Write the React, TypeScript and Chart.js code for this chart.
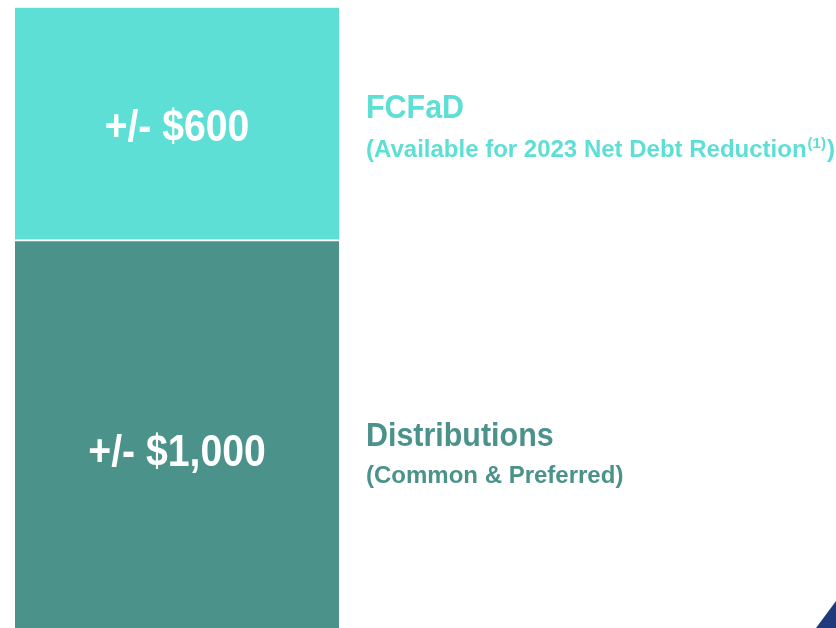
import React, { useEffect, useRef } from "react";
import { Chart, registerables } from "chart.js";

Chart.register(...registerables);

const categories = ["2023"];
const segmentNames = ["FCFaD", "Distributions"];
const segmentValues = [600, 1000];
const valueLabels = ["+/- $600", "+/- $1,000"];
const segmentSubtitles = ["(Available for 2023 Net Debt Reduction", "(Common & Preferred)"];
const subtitleNotes = ["(1)", ""];
const subtitleTails = [")", ""];

const COLORS = ["#5DDFD5", "#4A928A"];
const FONT = '"Liberation Sans", Arial, sans-serif';
// per-segment text layout offsets relative to bar segment center
const VALUE_DY = [17, 32];
const TITLE_DY = [-5.5, 11.5];
const SUB_DY = [33, 48.5];

function condensedText(ctx: CanvasRenderingContext2D, text: string, x: number, y: number, sx: number) {
  ctx.save();
  ctx.translate(x, y);
  ctx.scale(sx, 1);
  ctx.fillText(text, 0, 0);
  ctx.restore();
}

const labelPlugin = {
  id: "labels",
  afterDraw(chart: any) {
    const ctx = chart.ctx;
    const area = chart.chartArea;
    ctx.save();
    segmentValues.forEach((_, i) => {
      const meta = chart.getDatasetMeta(i === 0 ? 1 : 0);
      const el = meta.data[0];
      const { x, y, base } = el.getProps(["x", "y", "base"], true);
      const cy = (y + base) / 2;
      ctx.fillStyle = "#ffffff";
      ctx.font = `bold 45px ${FONT}`;
      ctx.textAlign = "center";
      ctx.textBaseline = "alphabetic";
      condensedText(ctx, valueLabels[i], x, cy + VALUE_DY[i], 0.87);

      const tx = area.right + 27;
      ctx.textAlign = "left";
      ctx.fillStyle = COLORS[i];
      ctx.font = `bold 34px ${FONT}`;
      condensedText(ctx, segmentNames[i], tx, cy + TITLE_DY[i], 0.895);
      ctx.font = `bold 24px ${FONT}`;
      const sub = segmentSubtitles[i];
      ctx.fillText(sub, tx, cy + SUB_DY[i]);
      let w = ctx.measureText(sub).width;
      if (subtitleNotes[i]) {
        ctx.font = `bold 15px ${FONT}`;
        ctx.fillText(subtitleNotes[i], tx + w + 1, cy + SUB_DY[i] - 9);
        w += ctx.measureText(subtitleNotes[i]).width + 1;
        ctx.font = `bold 24px ${FONT}`;
        ctx.fillText(subtitleTails[i], tx + w + 1, cy + SUB_DY[i]);
      }
    });
    const W = chart.width;
    const H = chart.height;
    ctx.fillStyle = "#1F3B7C";
    ctx.beginPath();
    ctx.moveTo(W - 20, H);
    ctx.lineTo(W, H - 27);
    ctx.lineTo(W, H);
    ctx.closePath();
    ctx.fill();
    ctx.restore();
  },
};

export default function App() {
  const ref = useRef<HTMLCanvasElement>(null);
  useEffect(() => {
    if (!ref.current) return;
    const chart = new Chart(ref.current, {
      type: "bar",
      data: {
        labels: categories,
        datasets: [
          {
            label: segmentNames[1],
            data: [segmentValues[1]],
            backgroundColor: COLORS[1],
            borderColor: "#ffffff",
            borderWidth: { top: 1.5, left: 0, right: 0, bottom: 0 },
            borderSkipped: false,
            categoryPercentage: 1,
            barPercentage: 1,
          },
          {
            label: segmentNames[0],
            data: [segmentValues[0]],
            backgroundColor: COLORS[0],
            borderColor: "#ffffff",
            borderWidth: { top: 0, left: 0, right: 0, bottom: 1 },
            borderSkipped: false,
            categoryPercentage: 1,
            barPercentage: 1,
          },
        ],
      },
      options: {
        animation: false,
        responsive: false,
        maintainAspectRatio: false,
        layout: { padding: { left: 15, right: 497, top: 7.5, bottom: 0 } },
        plugins: { legend: { display: false }, tooltip: { enabled: false } },
        scales: {
          x: { stacked: true, display: false },
          y: { stacked: true, display: false, min: 0, max: 1600 },
        },
      },
      plugins: [labelPlugin],
    });
    return () => chart.destroy();
  }, []);
  return (
    <div style={{ position: "fixed", left: 0, top: 0, width: 836, height: 628, background: "#fff" }}>
      <canvas ref={ref} width={836} height={628} style={{ display: "block" }} />
    </div>
  );
}
